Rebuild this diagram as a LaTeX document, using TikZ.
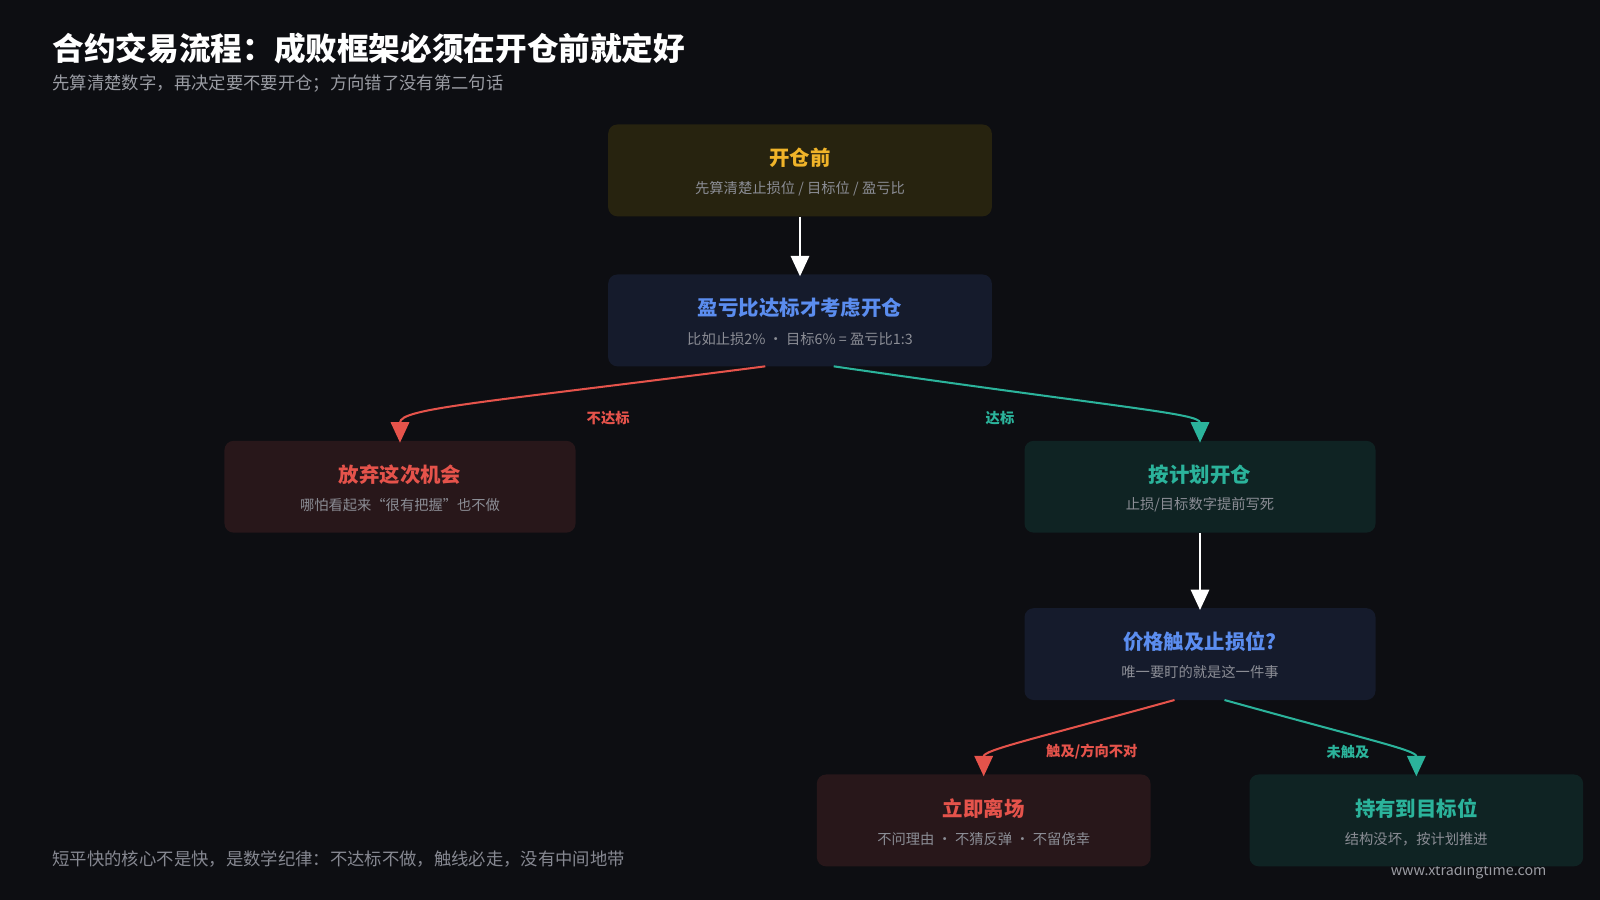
\documentclass[tikz,border=0pt]{standalone}
\usepackage{fontspec}
\setmainfont{Noto Sans CJK SC}
\usetikzlibrary{arrows.meta}
\definecolor{bg}{HTML}{0D0E12}
\definecolor{gold}{HTML}{F0B429}
\definecolor{bl}{HTML}{5B8DEF}
\definecolor{rd}{HTML}{E5534B}
\definecolor{tl}{HTML}{2BB39B}
\definecolor{gr}{HTML}{9A9CA3}
\definecolor{fy}{HTML}{27230F}
\definecolor{fb}{HTML}{151B2C}
\definecolor{fr}{HTML}{28171A}
\definecolor{ft}{HTML}{0F2323}
\begin{document}
\begin{tikzpicture}[x=1pt,y=-1pt,
box/.style={rounded corners=9pt,minimum width=#1,minimum height=90pt,inner sep=0pt},
ttl/.style={font=\fontsize{20}{24}\selectfont\bfseries},
sub/.style={font=\fontsize{14}{17}\selectfont,text=gr!115},
lab/.style={font=\fontsize{14}{17}\selectfont\bfseries},
arr/.style={line width=2pt,-{Triangle[width=18pt,length=20pt]}}]
\fill[bg] (0,0) rectangle (1568,882);
\node[anchor=west,text=white,font=\fontsize{31}{36}\selectfont\bfseries] (t) at (48,47) {合约交易流程：成败框架必须在开仓前就定好};
\node[anchor=west,text=gr,font=\fontsize{17}{20}\selectfont] (s) at (48,82) {先算清楚数字，再决定要不要开仓；方向错了没有第二句话};
\node[anchor=west,text=gr!120,font=\fontsize{17}{20}\selectfont] (f) at (48,842) {短平快的核心不是快，是数学纪律：不达标不做，触线必走，没有中间地带};
\node[anchor=east,text=gr,font=\fontsize{14}{17}\selectfont] (w) at (1519,854) {www.xtradingtime.com};

\node[box=376pt,fill=fy] (a) at (784,167) {};
\node[ttl,text=gold] (a1) at (784,155) {开仓前};
\node[sub] (a2) at (784,185) {先算清楚止损位 / 目标位 / 盈亏比};
\node[box=376pt,fill=fb] (b) at (784,314) {};
\node[ttl,text=bl] (b1) at (784,302) {盈亏比达标才考虑开仓};
\node[sub] (b2) at (784,332) {比如止损2\% · 目标6\% = 盈亏比1:3};
\node[box=344pt,fill=fr] (c) at (392,477) {};
\node[ttl,text=rd] (c1) at (392,465) {放弃这次机会};
\node[sub] (c2) at (392,495) {哪怕看起来“很有把握”也不做};
\node[box=344pt,fill=ft] (d) at (1176,477) {};
\node[ttl,text=tl] (d1) at (1176,465) {按计划开仓};
\node[sub] (d2) at (1176,495) {止损/目标数字提前写死};
\node[box=344pt,fill=fb] (e) at (1176,641) {};
\node[ttl,text=bl] (e1) at (1176,629) {价格触及止损位?};
\node[sub] (e2) at (1176,659) {唯一要盯的就是这一件事};
\node[box=327pt,fill=fr] (g) at (964,804) {};
\node[ttl,text=rd] (g1) at (964,792) {立即离场};
\node[sub] (g2) at (964,822) {不问理由 · 不猜反弹 · 不留侥幸};
\node[box=327pt,fill=ft] (h) at (1388,804) {};
\node[ttl,text=tl] (h1) at (1388,792) {持有到目标位};
\node[sub] (h2) at (1388,822) {结构没坏，按计划推进};

\coordinate (bl) at (750,359); \coordinate (br) at (817,359);
\coordinate (el) at (1151,686); \coordinate (er) at (1200,686);
\draw[arr,white] (a.south) -- ([yshift=-2pt]b.north);
\draw[arr,white] (d.south) -- ([yshift=-2pt]e.north);
\draw[arr,rd] (bl) .. controls (470,395) and (392,400) .. ([yshift=-2pt]c.north);
\draw[arr,tl] (br) .. controls (1100,400) and (1176,405) .. ([yshift=-2pt]d.north);
\draw[arr,rd] (el) .. controls (1010,725) and (964,735) .. ([yshift=-2pt]g.north);
\draw[arr,tl] (er) .. controls (1340,725) and (1388,735) .. ([yshift=-2pt]h.north);
\node[lab,text=rd] (l1) at (596,410) {不达标};
\node[lab,text=tl] (l2) at (980,410) {达标};
\node[lab,text=rd] (l3) at (1070,737) {触及/方向不对};
\node[lab,text=tl] (l4) at (1321,737) {未触及};
\end{tikzpicture}
\end{document}
